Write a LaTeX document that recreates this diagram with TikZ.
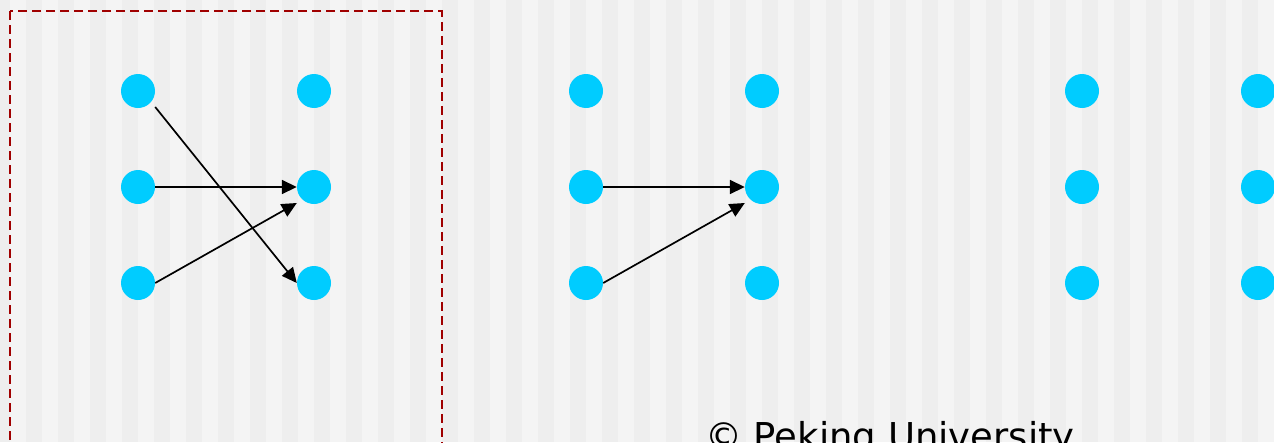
\documentclass[tikz,border=0pt]{standalone}
\usepackage{fontspec}
\newfontfamily\labelfont{DejaVu Sans}
\usetikzlibrary{arrows.meta}
\definecolor{stripelight}{HTML}{F4F4F4}
\definecolor{stripedark}{HTML}{EEEEEE}
\definecolor{dotblue}{HTML}{00CCFF}
\definecolor{framered}{HTML}{A00000}
\tikzset{
  dot/.style={circle, fill=dotblue, draw=none, minimum size=34pt, inner sep=0pt},
  link/.style={line width=1.7pt, -{Triangle[length=15pt,width=14pt]}},
  frame/.style={draw=framered, line width=2pt, dash pattern=on 9pt off 5pt},
}
\begin{document}
\begin{tikzpicture}[x=1pt,y=-1pt]
  \useasboundingbox (0,0) rectangle (1274,442);
  \clip (0,0) rectangle (1274,442);
  % striped background
  \fill[stripelight] (0,0) rectangle (1274,442);
  \foreach \k in {-1,...,38} {
    \fill[stripedark] ({26+32*\k},0) rectangle ({42+32*\k},442);
  }
  % dashed frame round the first group
  \draw[frame] (10,11) rectangle (441.5,470);
  % first group
  \node[dot] (a1) at (138,91) {};
  \node[dot] (a2) at (138,187) {};
  \node[dot] (a3) at (138,283) {};
  \node[dot] (b1) at (314,91) {};
  \node[dot] (b2) at (314,187) {};
  \node[dot] (b3) at (314,283) {};
  \draw[link] ([yshift=-16pt]a1.east) -- (b3.west);
  \draw[link] (a2.east) -- (b2.west);
  \draw[link] (a3.east) -- ([yshift=-16pt]b2.west);
  % second group
  \node[dot] (c1) at (586,91) {};
  \node[dot] (c2) at (586,187) {};
  \node[dot] (c3) at (586,283) {};
  \node[dot] (d1) at (762,91) {};
  \node[dot] (d2) at (762,187) {};
  \node[dot] (d3) at (762,283) {};
  \draw[link] (c2.east) -- (d2.west);
  \draw[link] (c3.east) -- ([yshift=-16pt]d2.west);
  % third group
  \node[dot] (e1) at (1082,91) {};
  \node[dot] (e2) at (1082,187) {};
  \node[dot] (e3) at (1082,283) {};
  \node[dot] (f1) at (1258,91) {};
  \node[dot] (f2) at (1258,187) {};
  \node[dot] (f3) at (1258,283) {};
  % footer
  \node[anchor=base west, inner sep=0pt, font=\labelfont\fontsize{37}{40}\selectfont] (footer) at (705,449) {© Peking University};
\end{tikzpicture}
\end{document}
